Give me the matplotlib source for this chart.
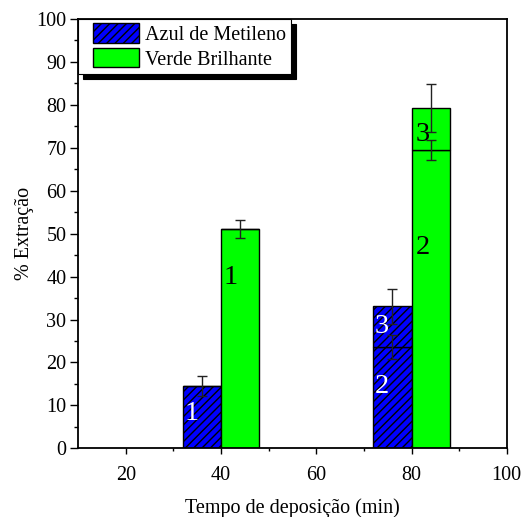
import matplotlib
matplotlib.use("Agg")
import matplotlib.pyplot as plt
from matplotlib.patches import Rectangle
from matplotlib.legend_handler import HandlerPatch

plt.rcParams['font.family'] = ['Liberation Serif', 'DejaVu Serif']
plt.rcParams['hatch.linewidth'] = 1.0

# ---- data ----
times = [40, 80]
series_names = ["Azul de Metileno", "Verde Brilhante"]

azul_lower = [14.5, 23.6]
azul_lower_err = [2.4, 2.9]
azul_upper = [0.0, 9.5]
azul_upper_err = [0.0, 4.1]

verde_lower = [51.0, 69.5]
verde_lower_err = [2.1, 2.3]
verde_upper = [0.0, 9.7]
verde_upper_err = [0.0, 5.6]

# annotation labels inside the bars: (x, y, text)
azul_labels = [(33.9, 8.2, "1"), (73.7, 14.3, "2"), (73.7, 28.3, "3")]
verde_labels = [(42.1, 39.9, "1"), (82.4, 46.8, "2"), (82.4, 73.2, "3")]

xticks = [20, 40, 60, 80, 100]
yticks = [0, 10, 20, 30, 40, 50, 60, 70, 80, 90, 100]

FS = 14.5

# ---- figure ----
fig = plt.figure(figsize=(5.24, 5.17), dpi=100)
ax = fig.add_axes([0.1494, 0.1329, 0.8176, 0.8303])

width = 8
blue = "#0000ff"
green = "#00ff00"
x_az = [t - width / 2 for t in times]
x_vb = [t + width / 2 for t in times]

b1 = ax.bar(x_az, azul_lower, width, color=blue, edgecolor="black",
            linewidth=1.0, hatch="////", zorder=2)
ax.bar(x_az, azul_upper, width, bottom=azul_lower, color=blue,
       edgecolor="black", linewidth=1.0, hatch="////", zorder=2)
g1 = ax.bar(x_vb, verde_lower, width, color=green, edgecolor="black",
            linewidth=1.0, zorder=2)
ax.bar(x_vb, verde_upper, width, bottom=verde_lower, color=green,
       edgecolor="black", linewidth=1.0, zorder=2)

eb_kw = dict(fmt="none", ecolor="#222222", elinewidth=1.0, capsize=3.5,
             capthick=1.0, zorder=4)
ax.errorbar(x_az, azul_lower, yerr=azul_lower_err, **eb_kw)
ax.errorbar(x_vb, verde_lower, yerr=verde_lower_err, **eb_kw)
az_top = [a + b for a, b in zip(azul_lower, azul_upper)]
vb_top = [a + b for a, b in zip(verde_lower, verde_upper)]
ax.errorbar([x for x, e in zip(x_az, azul_upper_err) if e > 0],
            [y for y, e in zip(az_top, azul_upper_err) if e > 0],
            yerr=[e for e in azul_upper_err if e > 0], **eb_kw)
ax.errorbar([x for x, e in zip(x_vb, verde_upper_err) if e > 0],
            [y for y, e in zip(vb_top, verde_upper_err) if e > 0],
            yerr=[e for e in verde_upper_err if e > 0], **eb_kw)

for x, y, s in azul_labels:
    ax.text(x, y, s, color="white", fontsize=20.5, ha="center", va="center", zorder=5)
for x, y, s in verde_labels:
    ax.text(x, y, s, color="black", fontsize=20.5, ha="center", va="center", zorder=5)

ax.set_xlim(10, 100)
ax.set_ylim(0, 100)
ax.set_xticks(xticks)
ax.set_xticks([30, 50, 70, 90], minor=True)
ax.set_yticks(yticks)
ax.set_yticks([5 + 10 * i for i in range(10)], minor=True)
ax.tick_params(axis="both", which="both", direction="out", top=False, right=False,
               labelsize=FS, width=1.0)
ax.tick_params(axis="y", which="major", length=5.5, pad=3)
ax.tick_params(axis="y", which="minor", length=3)
ax.tick_params(axis="x", which="major", length=4.5, pad=8)
ax.tick_params(axis="x", which="minor", length=2.5)
for sp in ax.spines.values():
    sp.set_linewidth(1.3)

ax.set_xlabel("Tempo de deposição (min)", fontsize=FS, labelpad=10)
ax.set_ylabel("% Extração", fontsize=FS, labelpad=2)


def make_patch(legend, orig_handle, xdescent, ydescent, width, height, fontsize):
    off = 0.18 * width
    return Rectangle((-xdescent + off, -ydescent), width - off, height)


leg = ax.legend([b1.patches[0], g1.patches[0]], series_names, loc="upper left",
                bbox_to_anchor=(0.0, 1.0), borderaxespad=0.0, fontsize=FS,
                handlelength=2.78, handleheight=1.1, handletextpad=0.33,
                labelspacing=0.15, borderpad=0.22, fancybox=False,
                framealpha=1.0, edgecolor="black",
                shadow={"ox": 3.6, "oy": -3.6, "color": "black", "alpha": 1.0},
                handler_map={Rectangle: HandlerPatch(patch_func=make_patch)})
leg.get_frame().set_linewidth(0.8)
leg.set_zorder(10)

fig.savefig("out.png", dpi=100)
